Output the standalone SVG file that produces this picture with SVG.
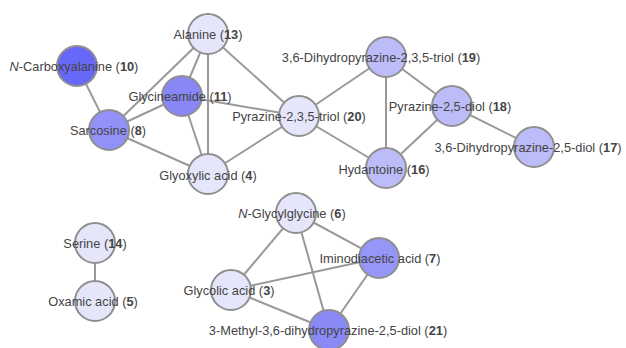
<svg xmlns="http://www.w3.org/2000/svg" width="626" height="348" viewBox="0 0 626 348">
<style>
.e{stroke:#999;stroke-width:2;fill:none}
circle{stroke:#8f8f8f;stroke-width:2}
.l{fill:#e6e6fb}.d10{fill:#6868f8}.d11{fill:#8787f7}.d8{fill:#9191f8}.m{fill:#bcbcf8}.d7{fill:#9696f8}.d21{fill:#8a8af6}
text{font-family:"Liberation Sans",Arial,sans-serif;font-size:12.8px;fill:#444;text-anchor:middle}
.b{font-weight:bold}
</style>
<rect width="626" height="348" fill="#fff"/>
<g id="edges">
<line class="e" x1="77" y1="66" x2="109" y2="130"/>
<line class="e" x1="109" y1="130" x2="208" y2="34"/>
<line class="e" x1="109" y1="130" x2="182" y2="96"/>
<line class="e" x1="109" y1="130" x2="208" y2="174"/>
<line class="e" x1="208" y1="34" x2="182" y2="96"/>
<line class="e" x1="208" y1="34" x2="208" y2="174"/>
<line class="e" x1="208" y1="34" x2="299" y2="116"/>
<line class="e" x1="182" y1="96" x2="208" y2="174"/>
<line class="e" x1="182" y1="96" x2="299" y2="116"/>
<line class="e" x1="208" y1="174" x2="299" y2="116"/>
<line class="e" x1="299" y1="116" x2="386" y2="57"/>
<line class="e" x1="299" y1="116" x2="386" y2="168"/>
<line class="e" x1="386" y1="57" x2="386" y2="168"/>
<line class="e" x1="386" y1="57" x2="452" y2="106"/>
<line class="e" x1="452" y1="106" x2="386" y2="168"/>
<line class="e" x1="452" y1="106" x2="534" y2="147"/>
<line class="e" x1="95" y1="243" x2="95" y2="301"/>
<line class="e" x1="296" y1="213" x2="231" y2="290"/>
<line class="e" x1="296" y1="213" x2="379" y2="258"/>
<line class="e" x1="296" y1="213" x2="329" y2="330"/>
<line class="e" x1="231" y1="290" x2="379" y2="258"/>
<line class="e" x1="231" y1="290" x2="329" y2="330"/>
<line class="e" x1="379" y1="258" x2="329" y2="330"/>
</g>
<g id="n13"><circle class="l" cx="208" cy="34" r="20"/><text x="208" y="39">Alanine (<tspan class="b">13</tspan>)</text></g>
<g id="n10"><circle class="d10" cx="77" cy="66" r="20"/><text x="74" y="71"><tspan font-style="italic">N</tspan>-Carboxyalanine (<tspan class="b">10</tspan>)</text></g>
<g id="n11"><circle class="d11" cx="182" cy="96" r="20"/><text x="180" y="101">Glycineamide (<tspan class="b">11</tspan>)</text></g>
<g id="n8"><circle class="d8" cx="109" cy="130" r="20"/><text x="108" y="135">Sarcosine (<tspan class="b">8</tspan>)</text></g>
<g id="n4"><circle class="l" cx="208" cy="174" r="20"/><text x="208" y="180">Glyoxylic acid (<tspan class="b">4</tspan>)</text></g>
<g id="n20"><circle class="l" cx="299" cy="116" r="20"/><text x="299" y="121">Pyrazine-2,3,5-triol (<tspan class="b">20</tspan>)</text></g>
<g id="n19"><circle class="m" cx="386" cy="57" r="20"/><text x="381" y="62">3,6-Dihydropyrazine-2,3,5-triol (<tspan class="b">19</tspan>)</text></g>
<g id="n18"><circle class="m" cx="452" cy="106" r="20"/><text x="450" y="111">Pyrazine-2,5-diol (<tspan class="b">18</tspan>)</text></g>
<g id="n16"><circle class="m" cx="386" cy="168" r="20"/><text x="384" y="174">Hydantoine (<tspan class="b">16</tspan>)</text></g>
<g id="n17"><circle class="m" cx="534" cy="147" r="20"/><text x="528" y="152">3,6-Dihydropyrazine-2,5-diol (<tspan class="b">17</tspan>)</text></g>
<g id="n14"><circle class="l" cx="95" cy="243" r="20"/><text x="95" y="248">Serine (<tspan class="b">14</tspan>)</text></g>
<g id="n5"><circle class="l" cx="95" cy="301" r="20"/><text x="93" y="306">Oxamic acid (<tspan class="b">5</tspan>)</text></g>
<g id="n6"><circle class="l" cx="296" cy="213" r="20"/><text x="292" y="218"><tspan font-style="italic">N</tspan>-Glycylglycine (<tspan class="b">6</tspan>)</text></g>
<g id="n7"><circle class="d7" cx="379" cy="258" r="20"/><text x="380" y="263">Iminodiacetic acid (<tspan class="b">7</tspan>)</text></g>
<g id="n3"><circle class="l" cx="231" cy="290" r="20"/><text x="229" y="295">Glycolic acid (<tspan class="b">3</tspan>)</text></g>
<g id="n21"><circle class="d21" cx="329" cy="330" r="20"/><text x="328" y="335">3-Methyl-3,6-dihydropyrazine-2,5-diol (<tspan class="b">21</tspan>)</text></g>
</svg>
